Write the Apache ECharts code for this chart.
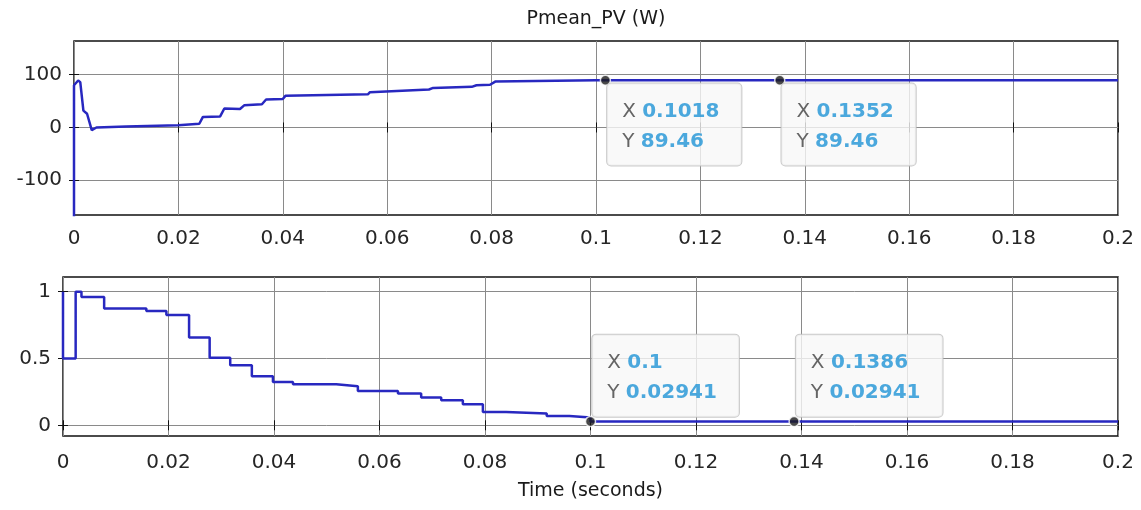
<!DOCTYPE html>
<html>
<head>
<meta charset="utf-8">
<script src="https://cdn.jsdelivr.net/npm/echarts@6/dist/echarts.min.js"></script>
<style>
  html, body { margin: 0; padding: 0; background: #fff; }
  #main { width: 1141px; height: 510px; }
</style>
</head>
<body>
<div id="main"></div>
<script>
// top scope: Pmean_PV (W)
const pvTime  = [0, 0, 0.0008, 0.0012, 0.0018, 0.0025, 0.0034, 0.0043, 0.01, 0.02, 0.024, 0.0247, 0.028, 0.0288, 0.0318, 0.0326, 0.036, 0.0368, 0.04, 0.0405, 0.0563, 0.0567, 0.068, 0.0688, 0.0762, 0.0771, 0.0797, 0.0807, 0.1, 0.2];
const pvPower = [-170, 80, 89, 86, 32, 26, -5, 0, 2, 4, 7, 20, 21, 36, 35, 42, 44, 53, 54, 60, 63, 67, 72, 75, 77, 80, 81, 87, 89.46, 89.46];

// bottom scope: duty cycle (step signal)
const dutyTime  = [0, 0, 0.0024, 0.0035, 0.0078, 0.0158, 0.0196, 0.0239, 0.0278, 0.0317, 0.0358, 0.0398, 0.0436, 0.0518, 0.0559, 0.0635, 0.0679, 0.0717, 0.0758, 0.0796, 0.084, 0.0917, 0.096, 0.1, 0.2];
const dutyValue = [1, 0.5, 1, 0.96, 0.875, 0.855, 0.825, 0.658, 0.505, 0.45, 0.368, 0.325, 0.307, 0.293, 0.257, 0.238, 0.208, 0.187, 0.157, 0.1, 0.088, 0.07, 0.058, 0.02941, 0.02941];

// data tips
const tipTopX = [0.1018, 0.1352];
const tipTopY = [89.46, 89.46];
const tipBotX = [0.1, 0.1386];
const tipBotY = [0.02941, 0.02941];

// tick labels
const yTicksTop = [-100, 0, 100];
const yTicksBot = [0, 0.5, 1];

const FONT = 'DejaVu Sans';
const lineColor = '#2828c0';
const gridColor = '#8a8a8a';

const zip = (a, b) => a.map((v, i) => [v, b[i]]);

const chart = echarts.init(document.getElementById('main'));

function xAx(gridIndex, bottom, margin) {
  return {
    type: 'value', gridIndex: gridIndex, min: 0, max: 0.2, interval: 0.02,
    position: bottom ? 'bottom' : 'top',
    axisLine: { show: false },
    axisTick: { show: true, inside: true, length: 5, lineStyle: { color: '#111' } },
    axisLabel: { show: bottom, margin: margin, fontFamily: FONT, fontSize: 20, color: '#262626' },
    splitLine: { show: bottom, lineStyle: { color: gridColor, width: 1 } }
  };
}

function yAx(gridIndex, left, min, max, ticks) {
  return {
    type: 'value', gridIndex: gridIndex, min: min, max: max,
    position: left ? 'left' : 'right',
    axisLine: { show: false },
    axisTick: { show: true, inside: true, length: 5, customValues: ticks, lineStyle: { color: '#111' } },
    axisLabel: { show: left, customValues: ticks, margin: 12, fontFamily: FONT, fontSize: 20, color: '#262626' },
    splitLine: { show: left, lineStyle: { color: gridColor, width: 1 } }
  };
}

const tipLabel = (vAlign, offY) => ({
  show: true,
  position: [7.5, offY],
  align: 'left',
  verticalAlign: vAlign,
  backgroundColor: '#f7f7f7',
  borderColor: '#bdbdbd',
  borderWidth: 1,
  borderRadius: 4,
  padding: [13, 22, 9, 15],
  lineHeight: 30,
  fontFamily: FONT,
  fontSize: 20,
  formatter: p => '{k|X }{v|' + p.value[0] + '}\n{k|Y }{v|' + p.value[1] + '}',
  rich: {
    k: { fontFamily: FONT, fontSize: 20, color: '#404040', lineHeight: 30 },
    v: { fontFamily: FONT, fontSize: 20, fontWeight: 'bold', color: '#1f93d6', lineHeight: 30 }
  }
});

const option = {
  backgroundColor: '#ffffff',
  animation: false,
  title: {
    text: 'Pmean_PV (W)',
    left: 596, top: 10, textAlign: 'center', padding: 0,
    textStyle: { fontFamily: FONT, fontSize: 19, fontWeight: 'normal', color: '#1a1a1a' }
  },
  grid: [
    { left: 74, right: 23, top: 41, height: 174, show: true, borderColor: '#111', borderWidth: 1.5, backgroundColor: '#fff' },
    { left: 63, right: 23, top: 277, height: 159, show: true, borderColor: '#111', borderWidth: 1.5, backgroundColor: '#fff' }
  ],
  xAxis: [
    xAx(0, true, 14),
    xAx(0, false, 0),
    Object.assign(xAx(1, true, 17), {
      name: 'Time (seconds)', nameLocation: 'middle', nameGap: 46,
      nameTextStyle: { fontFamily: FONT, fontSize: 19, color: '#1a1a1a' }
    }),
    xAx(1, false, 0)
  ],
  yAxis: [
    yAx(0, true, -166, 164, yTicksTop),
    yAx(0, false, -166, 164, yTicksTop),
    yAx(1, true, -0.08, 1.11, yTicksBot),
    yAx(1, false, -0.08, 1.11, yTicksBot)
  ],
  series: [
    {
      type: 'line', xAxisIndex: 0, yAxisIndex: 0, showSymbol: false, clip: true,
      lineStyle: { color: lineColor, width: 2.5 },
      data: zip(pvTime, pvPower)
    },
    {
      type: 'line', xAxisIndex: 2, yAxisIndex: 2, showSymbol: false, clip: true, step: 'end',
      lineStyle: { color: lineColor, width: 2.5 },
      data: zip(dutyTime, dutyValue)
    },
    {
      type: 'scatter', xAxisIndex: 0, yAxisIndex: 0, symbolSize: 10, z: 5,
      itemStyle: { color: '#1a1a1a', borderColor: '#ffffff', borderWidth: 1.5 },
      label: tipLabel('top', 9),
      data: zip(tipTopX, tipTopY)
    },
    {
      type: 'scatter', xAxisIndex: 2, yAxisIndex: 2, symbolSize: 10, z: 5,
      itemStyle: { color: '#1a1a1a', borderColor: '#ffffff', borderWidth: 1.5 },
      label: tipLabel('bottom', 1),
      data: zip(tipBotX, tipBotY)
    }
  ]
};

chart.setOption(option);
</script>
</body>
</html>
